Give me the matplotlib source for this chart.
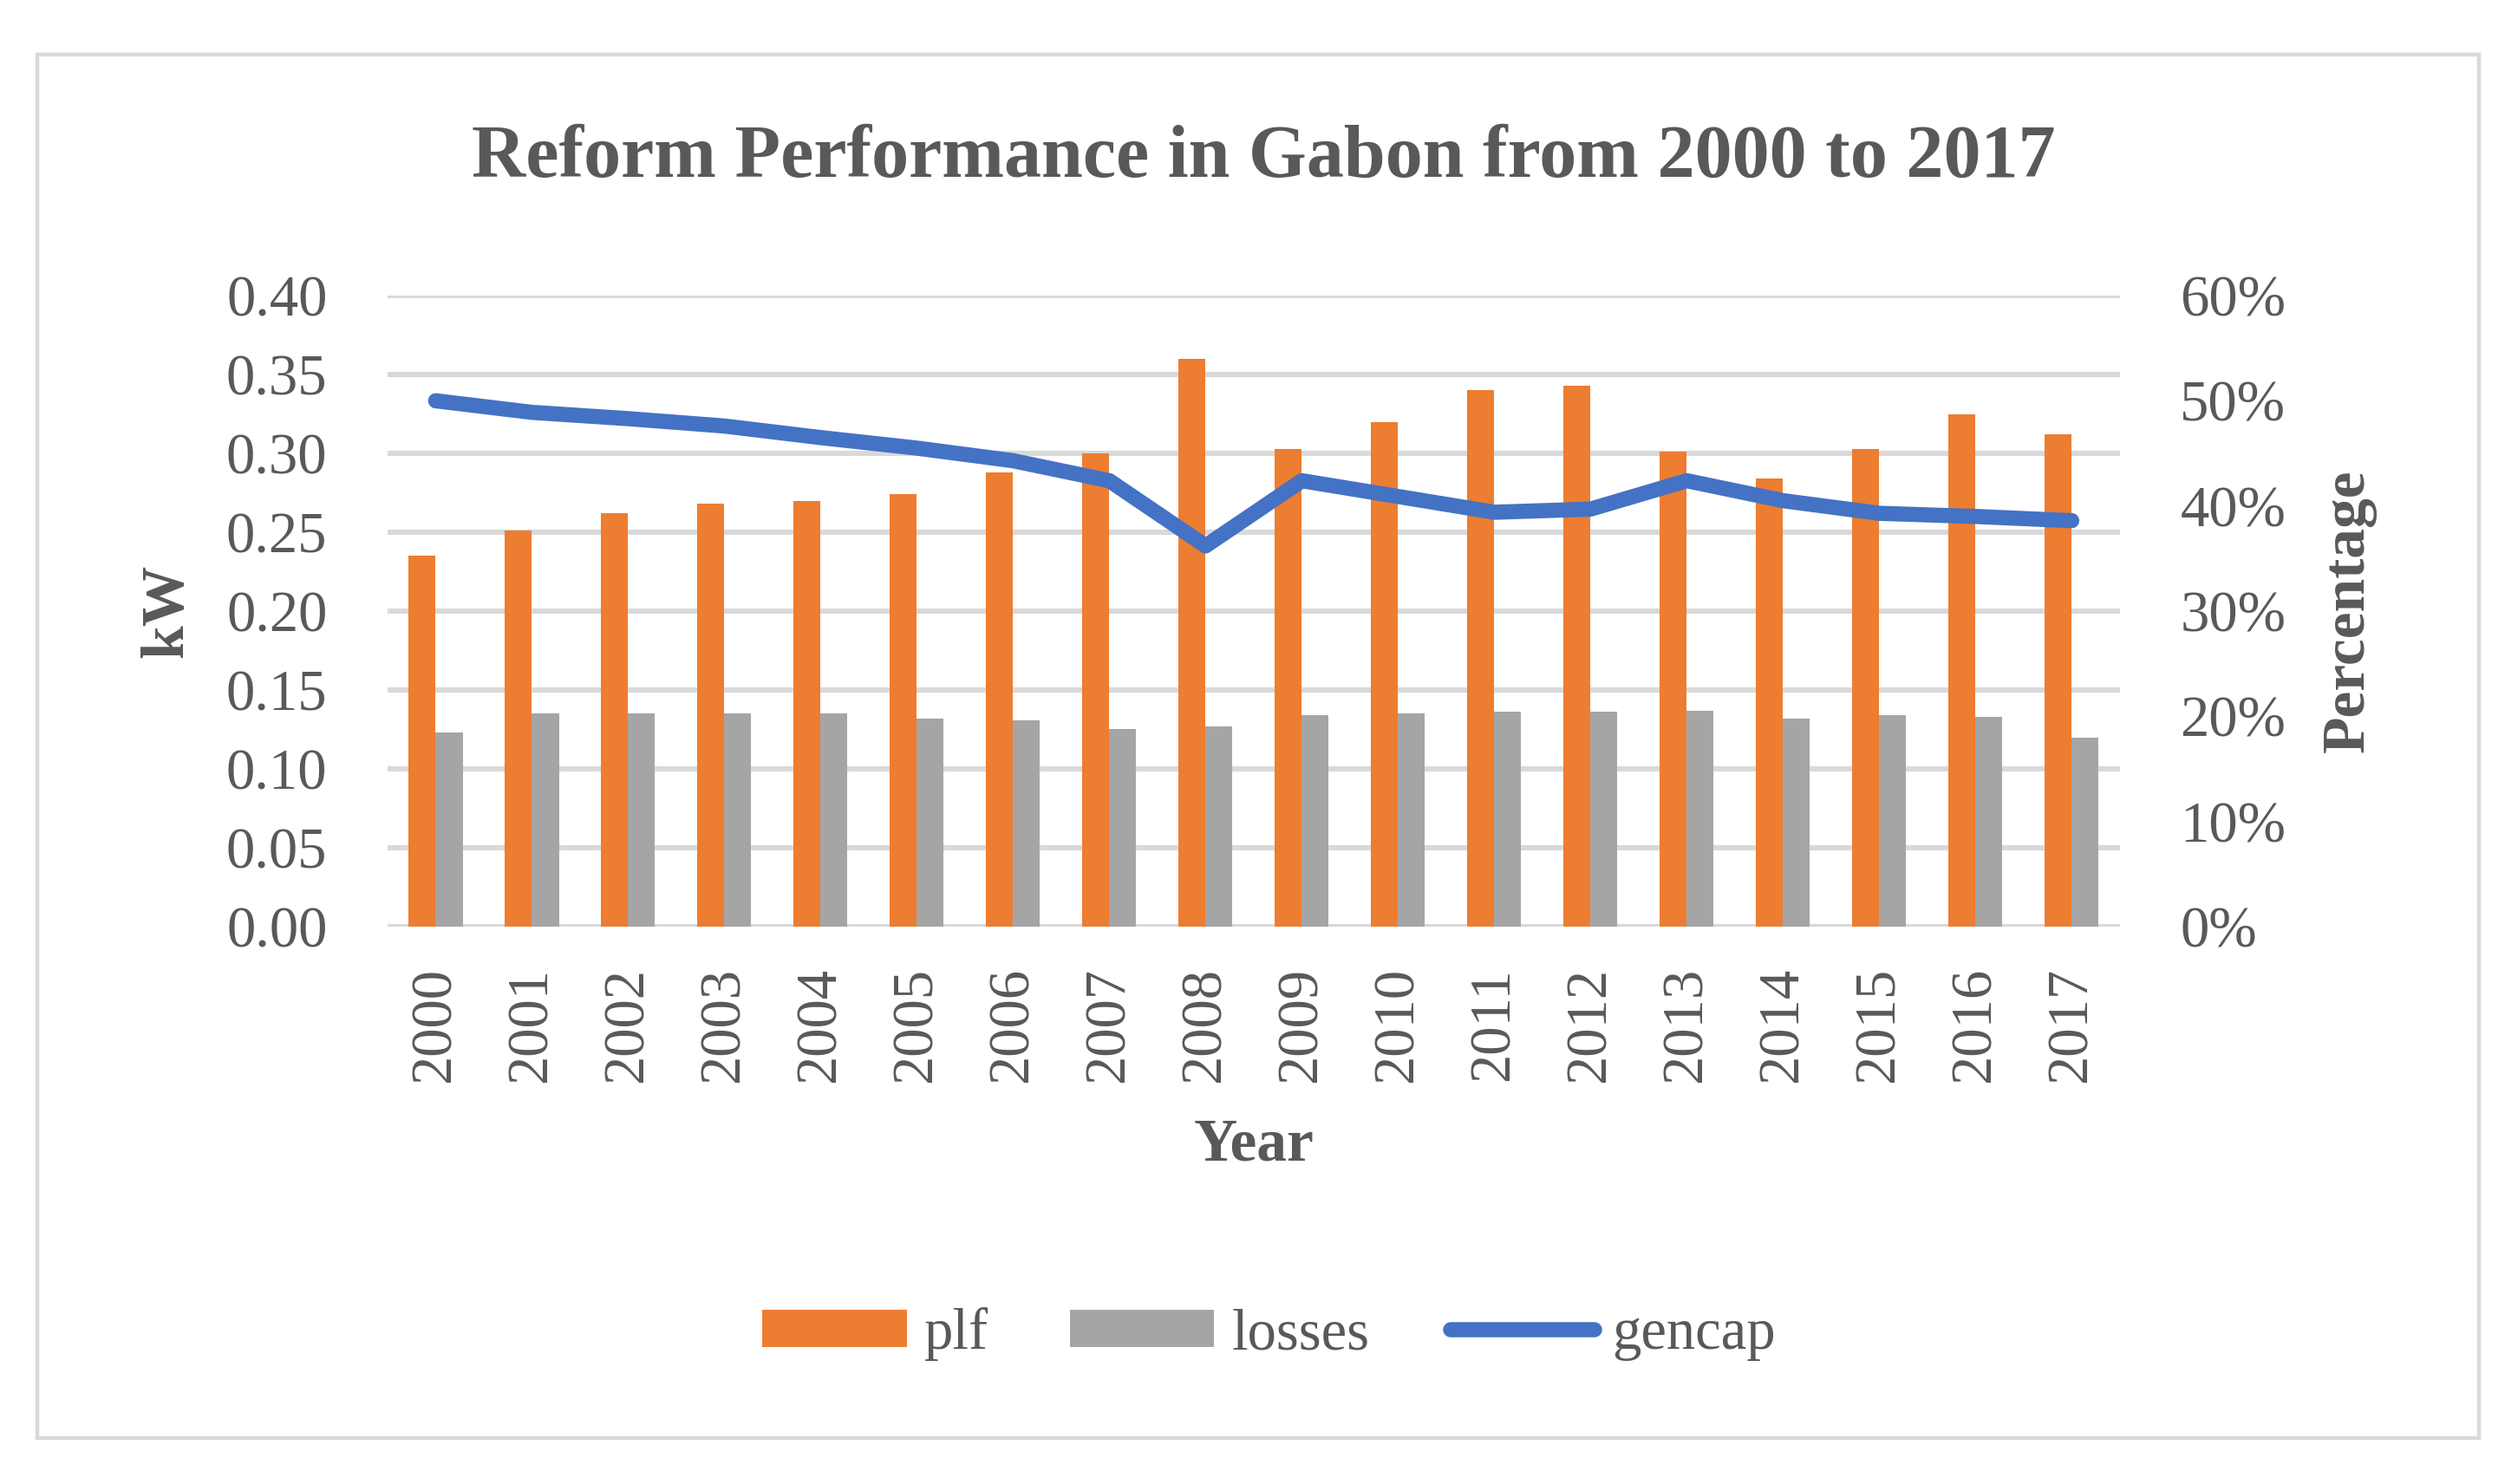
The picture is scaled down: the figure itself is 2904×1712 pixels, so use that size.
import numpy as np
import matplotlib.pyplot as plt
from matplotlib.patches import Rectangle
from matplotlib.ticker import PercentFormatter, MultipleLocator

# data
years = [str(y) for y in range(2000, 2018)]
plf = [0.235, 0.251, 0.262, 0.268, 0.270, 0.274, 0.288, 0.300, 0.360,
       0.303, 0.320, 0.340, 0.343, 0.301, 0.284, 0.303, 0.325, 0.312]
losses = [0.123, 0.135, 0.135, 0.135, 0.135, 0.132, 0.131, 0.125, 0.127,
          0.134, 0.135, 0.136, 0.136, 0.137, 0.132, 0.134, 0.133, 0.120]
gencap = [50.0, 48.9, 48.3, 47.6, 46.5, 45.5, 44.3, 42.4, 36.2,
          42.4, 40.9, 39.4, 39.7, 42.4, 40.5, 39.3, 39.0, 38.6]

plt.rcParams['font.family'] = ['Liberation Serif', 'DejaVu Serif']
txt = '#595959'
grid_c = '#d9d9d9'

fig = plt.figure(figsize=(14.52, 8.56), dpi=200)
ax = fig.add_axes([0.1539, 0.3756, 0.688, 0.4252])
ax2 = ax.twinx()

x = np.arange(len(years))
w = 0.28
ax.bar(x - w / 2, plf, w, color='#ED7D31', label='plf', zorder=2)
ax.bar(x + w / 2, losses, w, color='#A5A5A5', label='losses', zorder=2)
ax2.plot(x, gencap, color='#4472C4', lw=6.3, solid_capstyle='round',
         label='gencap', zorder=3)

ax.set_xlim(-0.5, len(years) - 0.5)
ax.set_ylim(0, 0.40)
ax.yaxis.set_major_locator(MultipleLocator(0.05))
ax.yaxis.set_major_formatter(lambda v, p: f'{v:.2f}')
ax2.set_ylim(0, 60)
ax2.yaxis.set_major_locator(MultipleLocator(10))
ax2.yaxis.set_major_formatter(PercentFormatter(xmax=100, decimals=0))

ax.set_axisbelow(True)
ax.grid(axis='y', color=grid_c, lw=2.2, zorder=0)
for a in (ax, ax2):
    for s in a.spines.values():
        s.set_visible(False)

ax.set_xticks(x)
ax.set_xticklabels(years, rotation=90)
ax.tick_params(axis='x', length=0, pad=17, labelsize=24, labelcolor=txt)
ax.tick_params(axis='y', length=0, pad=25, labelsize=24, labelcolor=txt)
ax2.tick_params(axis='y', length=0, pad=25, labelsize=24, labelcolor=txt)

ax.set_ylabel('kW', fontsize=25, fontweight='bold', color=txt, va='center')
ax.yaxis.set_label_coords(-0.127, 0.5)
ax2.set_ylabel('Percentage', fontsize=25, fontweight='bold', color=txt)
ax2.yaxis.label.set_va('center')
ax2.yaxis.set_label_coords(1.132, 0.5)
ax.set_xlabel('Year', fontsize=25, fontweight='bold', color=txt, va='center')
ax.xaxis.set_label_coords(0.5, -0.3475)

fig.text(0.502, 0.893, 'Reform Performance in Gabon from 2000 to 2017',
         ha='center', va='center', fontsize=31, fontweight='bold', color=txt)

h1, l1 = ax.get_legend_handles_labels()
h2, l2 = ax2.get_legend_handles_labels()
fig.legend(h1 + h2, l1 + l2, loc='center', bbox_to_anchor=(0.504, 0.101),
           ncol=3, frameon=False, fontsize=24, labelcolor=txt,
           handlelength=2.5, handleheight=0.62, handletextpad=0.3,
           columnspacing=1.4)

# outer chart border
fig.patches.append(Rectangle((0.0148, 0.031), 0.9697, 0.9322,
                             transform=fig.transFigure, fill=False,
                             edgecolor=grid_c, lw=1.6))

fig.savefig('out.png', dpi=200, facecolor='white')
